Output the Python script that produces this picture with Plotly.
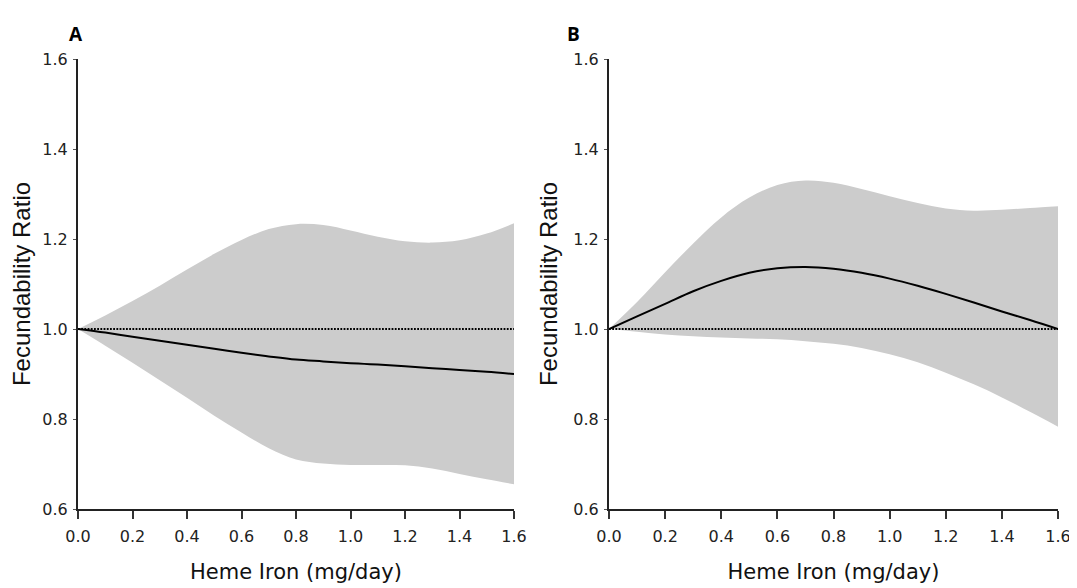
import plotly.graph_objects as go

# ---- data ----
heme_iron = [0.0, 0.1, 0.2, 0.3, 0.4, 0.5, 0.6, 0.7, 0.8, 0.9, 1.0, 1.1, 1.2, 1.3, 1.4, 1.5, 1.6]

a_ratio = [1.0, 0.992, 0.983, 0.974, 0.965, 0.956, 0.947, 0.939, 0.932, 0.928, 0.924, 0.921, 0.917, 0.913, 0.909, 0.905, 0.90]
a_upper = [1.0, 1.030, 1.062, 1.096, 1.132, 1.167, 1.198, 1.222, 1.233, 1.231, 1.219, 1.205, 1.195, 1.192, 1.197, 1.212, 1.235]
a_lower = [1.0, 0.963, 0.925, 0.886, 0.847, 0.807, 0.770, 0.735, 0.710, 0.701, 0.698, 0.698, 0.697, 0.690, 0.678, 0.666, 0.655]

b_ratio = [1.0, 1.028, 1.056, 1.084, 1.107, 1.125, 1.135, 1.138, 1.134, 1.125, 1.112, 1.096, 1.078, 1.059, 1.039, 1.020, 1.0]
b_upper = [1.0, 1.060, 1.126, 1.190, 1.248, 1.292, 1.320, 1.330, 1.325, 1.311, 1.295, 1.280, 1.268, 1.263, 1.265, 1.269, 1.273]
b_lower = [1.0, 0.994, 0.988, 0.984, 0.981, 0.979, 0.977, 0.973, 0.967, 0.958, 0.944, 0.926, 0.903, 0.877, 0.848, 0.816, 0.783]

reference_ratio = 1.0
x_ticks = [0.0, 0.2, 0.4, 0.6, 0.8, 1.0, 1.2, 1.4, 1.6]
y_ticks = [0.6, 0.8, 1.0, 1.2, 1.4, 1.6]
panel_labels = ["A", "B"]
x_title = "Heme Iron (mg/day)"
y_title = "Fecundability Ratio"

# ---- figure ----
# page body has an 8px default margin, so the figure is sized to fit the window
OFF = 8
W, H = 1077 - OFF, 588 - OFF
fig = go.Figure()

panels = [
    ("x", "y", a_ratio, a_upper, a_lower),
    ("x2", "y2", b_ratio, b_upper, b_lower),
]
band_color = "#cccccc"
for xa, ya, ratio, upper, lower in panels:
    fig.add_trace(go.Scatter(x=heme_iron, y=upper, xaxis=xa, yaxis=ya, mode="lines",
                             line=dict(width=0, shape="spline", color=band_color),
                             hoverinfo="skip", showlegend=False))
    fig.add_trace(go.Scatter(x=heme_iron, y=lower, xaxis=xa, yaxis=ya, mode="lines",
                             line=dict(width=0, shape="spline", color=band_color),
                             fill="tonexty", fillcolor=band_color,
                             hoverinfo="skip", showlegend=False))
    fig.add_trace(go.Scatter(x=[heme_iron[0], heme_iron[-1]], y=[reference_ratio, reference_ratio],
                             xaxis=xa, yaxis=ya, mode="lines",
                             line=dict(color="#000000", width=2, dash="1.8px,1.4px"),
                             hoverinfo="skip", showlegend=False))
    fig.add_trace(go.Scatter(x=heme_iron, y=ratio, xaxis=xa, yaxis=ya, mode="lines",
                             line=dict(color="#000000", width=2, shape="spline"),
                             showlegend=False))

tick_font = dict(family="DejaVu Sans", size=16, color="#222222")
common_x = dict(range=[0, 1.6], tickvals=x_ticks, ticktext=[f"{v:.1f}" for v in x_ticks],
                showline=True, linecolor="#222222", linewidth=2, ticks="outside",
                ticklen=8, tickwidth=1.5, tickcolor="#333333", tickfont=tick_font,
                ticklabelstandoff=4,
                showgrid=False, zeroline=False, fixedrange=True, automargin=False,
                title=dict(text=x_title, font=dict(family="DejaVu Sans", size=21, color="#111111"), standoff=19))
common_y = dict(range=[0.6, 1.6], tickvals=y_ticks, ticktext=[f"{v:.1f}" for v in y_ticks],
                showline=True, linecolor="#222222", linewidth=2, ticks="outside",
                ticklen=3, tickwidth=1, tickcolor="#555555", tickfont=tick_font,
                ticklabelstandoff=2,
                showgrid=False, zeroline=False, fixedrange=True, automargin=False,
                title=dict(text=y_title, font=dict(family="Liberation Sans", size=24, color="#111111"), standoff=9))

def px_x(sx):
    return (sx - OFF) / W

def px_y(sy):
    return 1 - (sy - OFF) / H

y_dom = [px_y(509), px_y(59)]
fig.update_layout(
    width=W, height=H,
    margin=dict(l=0, r=0, t=0, b=0),
    plot_bgcolor="white", paper_bgcolor="white",
    xaxis=dict(domain=[px_x(78), px_x(514)], anchor="y", **common_x),
    yaxis=dict(domain=y_dom, anchor="x", **common_y),
    xaxis2=dict(domain=[px_x(609), px_x(1058)], anchor="y2", **common_x),
    yaxis2=dict(domain=y_dom, anchor="x2", **common_y),
    annotations=[
        dict(text=f"<b>{panel_labels[0]}</b>", x=px_x(67), y=px_y(19), xref="paper", yref="paper",
             showarrow=False, font=dict(family="Open Sans", size=19, color="#000000")),
        dict(text=f"<b>{panel_labels[1]}</b>", x=px_x(573), y=px_y(19), xref="paper", yref="paper",
             showarrow=False, font=dict(family="Open Sans", size=19, color="#000000")),
    ],
)

fig.write_html("out.html")
